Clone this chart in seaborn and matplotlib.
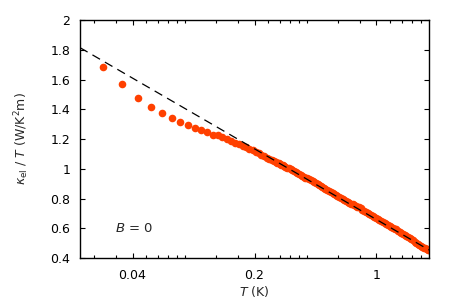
import matplotlib
matplotlib.use("Agg")
import matplotlib.pyplot as plt
import matplotlib.ticker as mticker
import seaborn as sns
import pandas as pd

# Messpunkte kappa_el / T gegen T (B = 0)
T_data = [0.027, 0.035, 0.043, 0.051, 0.059, 0.067, 0.075, 0.083, 0.091, 0.099,
          0.107, 0.115, 0.123, 0.131, 0.139, 0.147, 0.155, 0.163, 0.171, 0.179,
          0.187, 0.195, 0.203, 0.211, 0.219, 0.227, 0.235, 0.243, 0.251,
          0.26, 0.265, 0.27, 0.275, 0.28, 0.285, 0.29, 0.295, 0.30, 0.3075,
          0.315, 0.3225, 0.33, 0.3375, 0.345, 0.3525, 0.36, 0.3675, 0.375, 0.3825,
          0.39, 0.40, 0.41, 0.42, 0.43, 0.44, 0.45, 0.46, 0.47, 0.48, 0.49, 0.50,
          0.51, 0.5225, 0.535, 0.5475, 0.56, 0.5725, 0.585, 0.5975, 0.61, 0.625,
          0.64, 0.655, 0.67, 0.685, 0.70, 0.715, 0.73, 0.745, 0.76, 0.775, 0.79,
          0.81, 0.83, 0.85, 0.87, 0.89, 0.91, 0.93, 0.95, 0.97, 0.99, 1.015,
          1.04, 1.065, 1.09, 1.115, 1.14, 1.165, 1.19, 1.215, 1.24, 1.27, 1.30,
          1.33, 1.36, 1.39, 1.42, 1.45, 1.48, 1.515, 1.55, 1.585, 1.62, 1.655,
          1.69, 1.725, 1.76, 1.795, 1.83, 1.865, 1.90, 1.935, 1.97, 1.99]
kappa_data = [1.684, 1.573, 1.477, 1.417, 1.377, 1.341, 1.313, 1.293, 1.273, 1.258,
              1.246, 1.229, 1.225, 1.211, 1.198, 1.186, 1.175, 1.165, 1.156, 1.145,
              1.134, 1.124, 1.113, 1.104, 1.091, 1.083, 1.075, 1.066, 1.058,
              1.049, 1.044, 1.040, 1.036, 1.031, 1.026, 1.022, 1.018, 1.013, 1.008,
              1.003, 0.996, 0.989, 0.982, 0.976, 0.970, 0.964, 0.958, 0.952, 0.946,
              0.940, 0.935, 0.930, 0.923, 0.916, 0.909, 0.903, 0.896, 0.890, 0.884, 0.878, 0.872,
              0.866, 0.857, 0.849, 0.842, 0.835, 0.828, 0.822, 0.816, 0.810, 0.803,
              0.796, 0.789, 0.782, 0.775, 0.769, 0.766, 0.764, 0.758, 0.752, 0.746, 0.741,
              0.733, 0.726, 0.719, 0.712, 0.702, 0.693, 0.686, 0.680, 0.674, 0.668, 0.660,
              0.653, 0.646, 0.640, 0.635, 0.630, 0.624, 0.618, 0.611, 0.605, 0.598, 0.592,
              0.582, 0.572, 0.565, 0.559, 0.553, 0.547, 0.540, 0.534, 0.527, 0.521, 0.510,
              0.499, 0.493, 0.487, 0.481, 0.475, 0.469, 0.464, 0.459, 0.454, 0.452]

# gestrichelte Gerade (Fit)
T_fit = [0.02, 2.0]
kappa_fit = [1.814, 0.454]

x_major = [0.04, 0.2, 1]
x_major_labels = ["0.04", "0.2", "1"]
x_minor = [0.024, 0.032, 0.048, 0.056, 0.064, 0.072, 0.08, 0.12, 0.16,
           0.24, 0.28, 0.32, 0.36, 0.4, 0.6, 0.8, 1.2, 1.4, 1.6, 1.8]
y_ticks = [0.4, 0.6, 0.8, 1.0, 1.2, 1.4, 1.6, 1.8, 2.0]
y_tick_labels = ["0.4", "0.6", "0.8", "1", "1.2", "1.4", "1.6", "1.8", "2"]

sns.set_theme(style="ticks")
plt.rcParams['font.family'] = ['DejaVu Sans']
plt.rcParams['mathtext.fontset'] = 'dejavusans'

df = pd.DataFrame({'T': T_data, 'kappa': kappa_data})
fit = pd.DataFrame({'T': T_fit, 'kappa': kappa_fit})

fig = plt.figure(figsize=(4.58, 3.04), dpi=100)
ax = fig.add_axes([0.1747, 0.1513, 0.7620, 0.7829])

sns.scatterplot(data=df, x='T', y='kappa', color='#ff4000', s=30, linewidth=0, ax=ax, zorder=2)
sns.lineplot(data=fit, x='T', y='kappa', color='black', linewidth=0.9,
             linestyle=(0, (7, 4.5)), ax=ax, zorder=3)

ax.set_xscale('log')
ax.set_xlim(0.02, 2.0)
ax.set_ylim(0.4, 2.0)

ax.xaxis.set_major_locator(mticker.FixedLocator(x_major))
ax.xaxis.set_major_formatter(mticker.FixedFormatter(x_major_labels))
ax.xaxis.set_minor_locator(mticker.FixedLocator(x_minor))
ax.xaxis.set_minor_formatter(mticker.NullFormatter())
ax.set_yticks(y_ticks)
ax.set_yticklabels(y_tick_labels)

ax.tick_params(which='both', direction='in', top=True, right=True, colors='black',
               labelsize=9, width=0.8)
ax.tick_params(which='major', length=3.5)
ax.tick_params(which='minor', length=2.5)
ax.tick_params(axis='x', pad=8)
ax.tick_params(axis='y', pad=7)

for s in ax.spines.values():
    s.set_color('black')
    s.set_linewidth(1.0)

ax.set_xlabel(r'$T$ (K)', fontsize=9, labelpad=1)
ax.set_ylabel(r'$\kappa_{\rm el}$ / $T$ (W/K$^2$m)', fontsize=9, labelpad=14)

ax.text(0.156, 0.122, r'$B$ = 0', transform=ax.transAxes, fontsize=9.5,
        ha='center', va='center')

fig.savefig("out.png", dpi=100)
plt.close(fig)
